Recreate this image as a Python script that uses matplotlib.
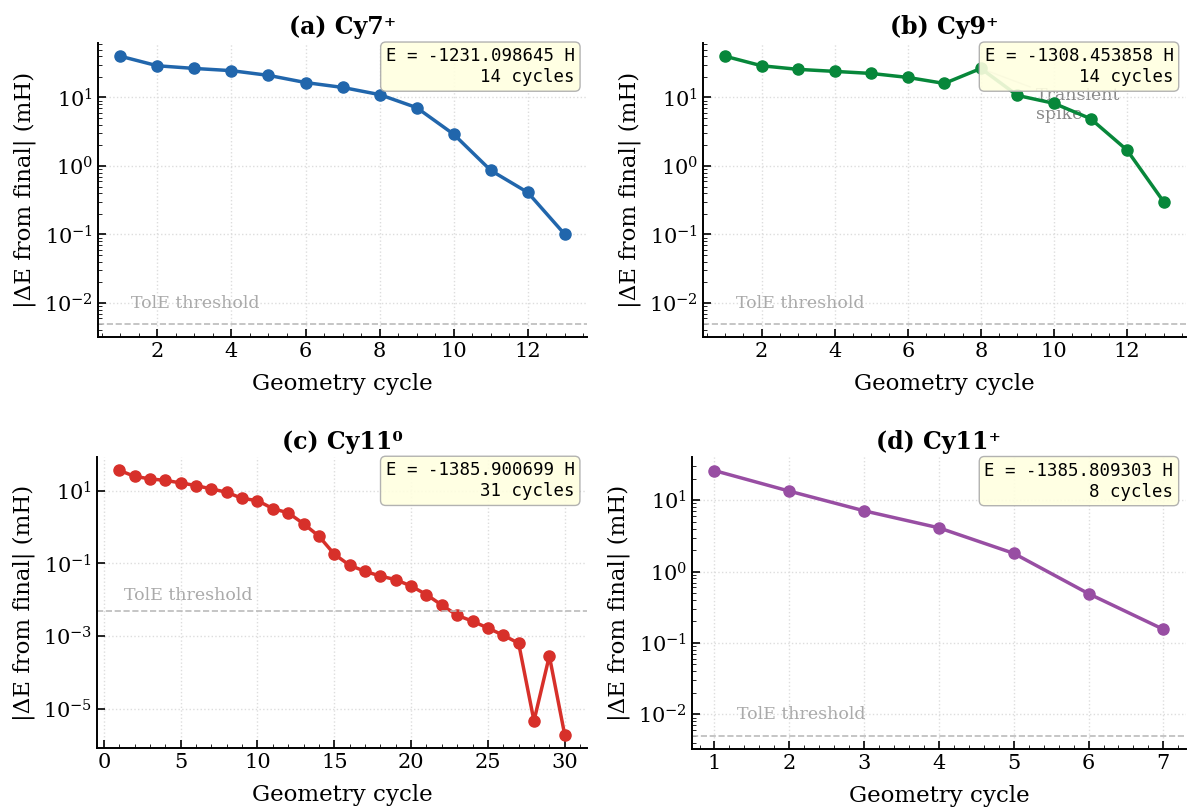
"""Konvergens av geometrioptimering"""
import numpy as np
import matplotlib
matplotlib.use('Agg')
import matplotlib.pyplot as plt
from matplotlib.ticker import NullLocator

plt.rcParams['font.family'] = 'DejaVu Serif'
plt.rcParams['mathtext.fontset'] = 'dejavuserif'
plt.rcParams['xtick.direction'] = 'in'
plt.rcParams['ytick.direction'] = 'in'
plt.rcParams['xtick.minor.visible'] = True
plt.rcParams['ytick.minor.visible'] = True
plt.rcParams['xtick.major.size'] = 6
plt.rcParams['ytick.major.size'] = 6
plt.rcParams['xtick.minor.size'] = 3
plt.rcParams['ytick.minor.size'] = 3
plt.rcParams['xtick.major.width'] = 1.2
plt.rcParams['ytick.major.width'] = 1.2
plt.rcParams['axes.linewidth'] = 1.4

# |dE| fra slutt-energi (mH) per geometrisyklus
titles = ['(a) Cy7⁺', '(b) Cy9⁺', '(c) Cy11⁰', '(d) Cy11⁺']
energies = ['-1231.098645', '-1308.453858', '-1385.900699', '-1385.809303']
n_cycles = [14, 14, 31, 8]
colors = ['#2166ac', '#07873a', '#d7302a', '#984ea3']

de_cy7p = [40, 29, 26.5, 24.6, 21, 16.5, 14, 11, 7.1, 2.9, 0.86, 0.41, 0.1]
de_cy9p = [40, 29, 25.7, 24, 22.4, 19.6, 16, 26.5, 10.7, 8.2, 4.9, 1.7, 0.3]
de_cy11n = [36, 24.5, 21, 19, 16.3, 13.7, 11.1, 9, 6.1, 5.3, 3.2, 2.45, 1.23,
            0.56, 0.18, 0.089, 0.061, 0.045, 0.036, 0.024, 0.014, 0.0072,
            0.0038, 0.0026, 0.0017, 0.00107, 0.00065, 4.8e-6, 2.9e-4, 2.0e-6]
de_cy11p = [26, 13.4, 7.1, 4.1, 1.8, 0.49, 0.155]
series = [de_cy7p, de_cy9p, de_cy11n, de_cy11p]

tol_e = 5e-3  # mH

fig, axes = plt.subplots(2, 2, figsize=(11.87, 8.08), dpi=100)

# aksenes plassering (venstre, bunn, bredde, hoyde) i figurbrok
pos = [(0.0826, 0.583, 0.412, 0.364),
       (0.5923, 0.583, 0.4065, 0.364),
       (0.0817, 0.0743, 0.4128, 0.360),
       (0.583, 0.0730, 0.416, 0.361)]

for ax, p, title, e, n, c, de in zip(axes.flat, pos, titles, energies, n_cycles, colors, series):
    ax.set_position(p)
    cyc = np.arange(1, len(de) + 1)
    ax.semilogy(cyc, de, '-o', color=c, lw=2.5, ms=8)
    ax.axhline(tol_e, color='#bbbbbb', ls='--', lw=1.2)
    ax.text(1.3, tol_e * 1.5, 'TolE threshold', color='#aaaaaa', fontsize=12.5, va='bottom')

    # y-grenser med 5 % marg i log-rom, inkl. terskel
    lo = np.log10(min(min(de), tol_e))
    hi = np.log10(max(de))
    m = 0.05 * (hi - lo)
    ax.set_ylim(10**(lo - m), 10**(hi + m))

    ax.set_title(title, fontsize=17, fontweight='bold')
    ax.set_xlabel('Geometry cycle', fontsize=16.5, labelpad=9)
    ax.set_ylabel('|ΔE from final| (mH)', fontsize=16.5, labelpad=6)
    ax.tick_params(labelsize=15)
    ax.grid(True, which='major', ls=':', color='#dddddd', lw=1)
    ax.spines['top'].set_visible(False)
    ax.spines['right'].set_visible(False)
    ax.text(0.975, 0.985, f'E = {e} H\n{n} cycles', transform=ax.transAxes,
            ha='right', va='top', family='DejaVu Sans Mono', fontsize=12.5,
            bbox=dict(boxstyle='round,pad=0.3', fc='#ffffe0', ec='#aaaaaa', alpha=0.9))

# (c): hovedmerker hver andre dekade
axes[1, 0].set_yticks([1e1, 1e-1, 1e-3, 1e-5])
axes[1, 0].yaxis.set_minor_locator(NullLocator())

axes[0, 1].annotate('Transient\nspike', xy=(8, de_cy9p[7]), xytext=(9.5, 7.8),
                    fontsize=12.5, color='#888888', va='center', zorder=1,
                    arrowprops=dict(arrowstyle='-', color='#cccccc', lw=1))

plt.savefig('out.png', dpi=100)
